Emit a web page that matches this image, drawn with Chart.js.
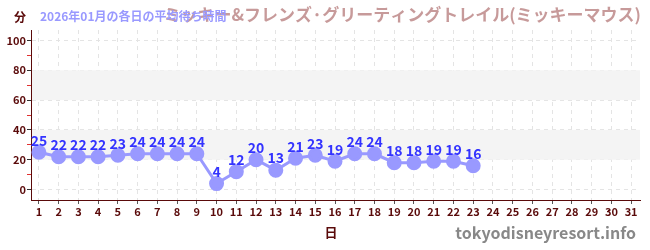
<!DOCTYPE html>
<html>
<head>
<meta charset="utf-8">
<script src="https://cdn.jsdelivr.net/npm/chart.js@4/dist/chart.umd.min.js"></script>
<style>
body{margin:0;background:#fff;}
#wrap{width:650px;height:250px;position:relative;}
</style>
</head>
<body>
<div id="wrap"><canvas id="myChart" width="650" height="250"></canvas></div>
<script>
// days of the month and the average waits (minutes)
var days = [1,2,3,4,5,6,7,8,9,10,11,12,13,14,15,16,17,18,19,20,21,22,23];
var waits = [25,22,22,22,23,24,24,24,24,4,12,20,13,21,23,19,24,24,18,18,19,19,16];
var yTicks = [0,20,40,60,80,100];
var bands = [[20,40],[60,80]];

var mainTitle = "ミッキー&フレンズ·グリーティングトレイル(ミッキーマウス)";
var subTitle = "2026年01月の各日の平均待ち時間";
var tickColor = "#5a0a0a";
var font = "'Noto Sans CJK JP', 'Noto Sans', sans-serif";

var decor = {
  id: 'decor',
  beforeDatasetsDraw: function(chart){
    var c = chart.ctx, x = chart.scales.x, y = chart.scales.y;
    c.save();
    c.fillStyle = '#f4f4f4';
    bands.forEach(function(b){
      var t = y.getPixelForValue(b[1]), btm = y.getPixelForValue(b[0]);
      c.fillRect(x.left + 1, t, x.right - x.left - 1, btm - t);
    });
    c.restore();
  },
  afterDraw: function(chart){
    var c = chart.ctx;
    c.save();
    c.textBaseline = 'middle';
    c.font = "bold 12px " + font;
    c.fillStyle = tickColor;
    c.textAlign = 'left';
    c.fillText("分", 14, 17);
    c.font = "bold 17px " + font;
    c.fillStyle = 'rgba(180,120,120,0.75)';
    c.textAlign = 'right';
    c.fillText(mainTitle, 641, 15);
    c.font = "bold 12px " + font;
    c.fillStyle = '#9999ff';
    c.textAlign = 'left';
    c.fillText(subTitle, 40, 16);
    c.font = "bold 13px " + font;
    c.fillStyle = tickColor;
    c.textAlign = 'center';
    c.fillText("日", 331, 232);
    c.font = "bold 16px " + font;
    c.fillStyle = '#888';
    c.textAlign = 'right';
    c.fillText("tokyodisneyresort.info", 636, 233);
    // point labels
    var meta = chart.getDatasetMeta(0);
    c.font = "bold 14px " + font;
    c.fillStyle = '#3333ff';
    c.textAlign = 'center';
    c.textBaseline = 'bottom';
    meta.data.forEach(function(p, i){
      c.fillText(waits[i], p.x, p.y - 5);
    });
    c.restore();
  }
};

new Chart(document.getElementById('myChart'), {
  type: 'line',
  data: {
    datasets: [{
      data: days.map(function(d, i){ return {x: d, y: waits[i]}; }),
      borderColor: '#9999ff',
      backgroundColor: '#9999ff',
      borderWidth: 3,
      pointRadius: 6,
      pointHoverRadius: 6,
      tension: 0
    }]
  },
  options: {
    responsive: false,
    animation: false,
    layout: {padding: {top: 30, right: 10, left: 0, bottom: 0}},
    plugins: {legend: {display: false}, tooltip: {enabled: false}},
    scales: {
      x: {
        type: 'linear',
        min: 0.6,
        max: 31.45,
        afterFit: function(s){ s.height = 50; },
        afterBuildTicks: function(s){
          var t = [];
          for (var i = 1; i <= 31; i++) t.push({value: i});
          s.ticks = t;
        },
        ticks: {color: tickColor, font: {size: 11, weight: 'bold', family: font}, padding: 1, maxRotation: 0, autoSkip: false},
        grid: {color: '#e4e4e4', tickColor: '#555', tickLength: 4, drawOnChartArea: true},
        border: {color: '#5a0a0a', width: 1, dash: [4, 4]}
      },
      y: {
        min: -7,
        max: 107,
        afterFit: function(s){ s.width = 31; },
        afterBuildTicks: function(s){
          var t = [];
          for (var v = 0; v <= 100; v += 10) t.push({value: v});
          s.ticks = t;
        },
        ticks: {
          color: tickColor,
          font: {size: 11, weight: 'bold', family: font},
          padding: 1,
          callback: function(v){ return v % 20 == 0 ? v : ''; }
        },
        grid: {
          color: function(ctx){ return ctx.tick && ctx.tick.value % 20 == 0 ? '#e4e4e4' : 'rgba(0,0,0,0)'; },
          tickColor: function(ctx){ return ctx.tick && ctx.tick.value % 20 == 0 ? '#333' : '#e03030'; },
          tickLength: 4
        },
        border: {color: '#5a0a0a', width: 1, dash: [4, 4]}
      }
    }
  },
  plugins: [decor]
});
</script>
</body>
</html>
